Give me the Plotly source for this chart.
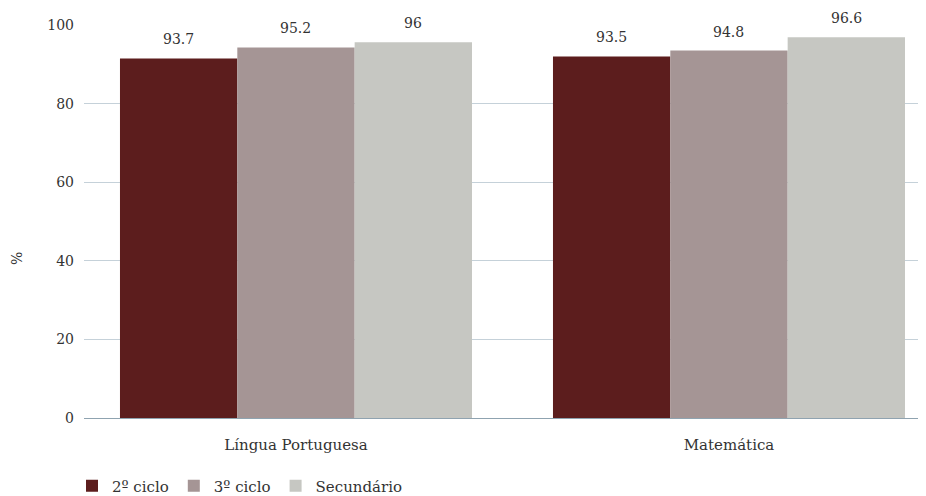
import plotly.graph_objects as go

categories = ["Língua Portuguesa", "Matemática"]
series_names = ["2º ciclo", "3º ciclo", "Secundário"]
# bar heights as drawn in the reference
bar_heights = [
    [91.5, 92.0],
    [94.3, 93.5],
    [95.6, 96.9],
]
# value labels printed above the bars
value_labels = [
    ["93.7", "93.5"],
    ["95.2", "94.8"],
    ["96", "96.6"],
]
colors = ["#5c1d1d", "#a59595", "#c6c7c2"]
y_ticks = [0, 20, 40, 60, 80, 100]

FONT = "DejaVu Serif"
TXT = "#333333"
BARGAP = 0.187
W, H = 918, 488          # page body has an 8px margin
L, T, B = 76, 17, 78

fig = go.Figure()
for name, vals, col in zip(series_names, bar_heights, colors):
    fig.add_trace(go.Bar(name=name, x=categories, y=vals, marker=dict(color=col, line=dict(width=0))))

bw = (1 - BARGAP) / len(series_names)
for s, (vals, labs) in enumerate(zip(bar_heights, value_labels)):
    for g, (v, lab) in enumerate(zip(vals, labs)):
        fig.add_annotation(x=g + (s - 1) * bw, y=v, xref="x", yref="y", text=lab,
                           showarrow=False, yanchor="bottom", yshift=9,
                           font=dict(family=FONT, size=14, color=TXT))

fig.add_annotation(x=-(L - 9) / (W - L), y=0.4046, xref="paper", yref="paper", text="%",
                   xanchor="center", yanchor="middle",
                   showarrow=False, textangle=-90, font=dict(family=FONT, size=14, color=TXT))

fig.update_layout(
    width=W, height=H,
    margin=dict(l=L, r=0, t=T, b=B, autoexpand=False),
    paper_bgcolor="white", plot_bgcolor="white",
    barmode="group", bargap=BARGAP, bargroupgap=0,
    font=dict(family=FONT, size=15, color=TXT),
    showlegend=True,
    legend=dict(orientation="h", xref="container", yref="container",
                x=64 / W, xanchor="left", y=1 - 478 / H, yanchor="middle",
                font=dict(family=FONT, size=15, color=TXT), traceorder="normal",
                itemwidth=30),
    xaxis=dict(range=[-0.4896, 1.455], showgrid=False, showline=True, linecolor="#8fa3b0",
               linewidth=1, ticks="", ticklabelstandoff=13, automargin=False,
               tickfont=dict(family=FONT, size=15, color=TXT)),
    yaxis=dict(range=[0, 100], tickvals=y_ticks, showgrid=True, gridcolor="#c5d1d9",
               gridwidth=1, zeroline=False, showline=False, ticks="",
               ticklabelstandoff=9, automargin=False,
               tickfont=dict(family=FONT, size=14, color=TXT)),
)

fig.write_html("out.html")
